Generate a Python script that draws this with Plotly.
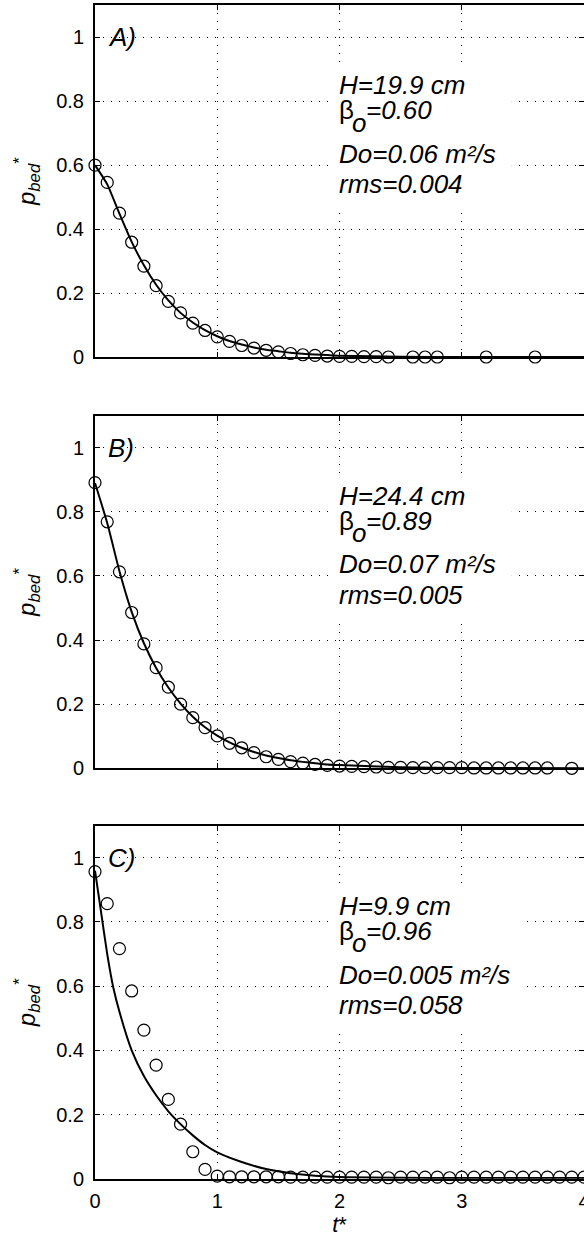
import plotly.graph_objects as go
from plotly.subplots import make_subplots

# ---------------- data ----------------
tA = [0.0, 0.1, 0.2, 0.3, 0.4, 0.5, 0.6, 0.7, 0.8, 0.9, 1.0, 1.1, 1.2, 1.3, 1.4,
      1.5, 1.6, 1.7, 1.8, 1.9, 2.0, 2.1, 2.2, 2.3, 2.4, 2.6, 2.7, 2.8, 3.2, 3.6]
pA = [0.600, 0.546, 0.450, 0.359, 0.284, 0.223, 0.174, 0.138, 0.106, 0.083, 0.063,
      0.049, 0.036, 0.028, 0.021, 0.016, 0.011, 0.007, 0.005, 0.003, 0.002, 0.002,
      0.001, 0.001, 0.000, 0.000, 0.000, 0.000, 0.000, 0.000]

tfitA = [0.0, 0.1, 0.2, 0.3, 0.4, 0.5, 0.6, 0.7, 0.8, 0.9, 1.0, 1.1, 1.2, 1.3, 1.4,
         1.5, 1.6, 1.7, 1.8, 1.9, 2.0, 2.5, 3.0, 4.0]
fitA = [0.600, 0.540, 0.448, 0.360, 0.287, 0.226, 0.177, 0.138, 0.108, 0.084, 0.065,
        0.050, 0.039, 0.030, 0.023, 0.018, 0.013, 0.010, 0.008, 0.006, 0.004, 0.001,
        0.000, 0.000]

tB = [0.0, 0.1, 0.2, 0.3, 0.4, 0.5, 0.6, 0.7, 0.8, 0.9, 1.0, 1.1, 1.2, 1.3, 1.4,
      1.5, 1.6, 1.7, 1.8, 1.9, 2.0, 2.1, 2.2, 2.3, 2.4, 2.5, 2.6, 2.7, 2.8, 2.9,
      3.0, 3.1, 3.2, 3.3, 3.4, 3.5, 3.6, 3.7, 3.9]
pB = [0.891, 0.769, 0.613, 0.486, 0.388, 0.314, 0.253, 0.200, 0.158, 0.127, 0.101,
      0.078, 0.064, 0.049, 0.036, 0.028, 0.021, 0.016, 0.012, 0.009, 0.007, 0.006,
      0.005, 0.004, 0.003, 0.003, 0.002, 0.002, 0.002, 0.002, 0.002, 0.001, 0.001,
      0.001, 0.001, 0.001, 0.001, 0.001, 0.000]

tfitB = [0.0, 0.1, 0.2, 0.3, 0.4, 0.5, 0.6, 0.7, 0.8, 0.9, 1.0, 1.1, 1.2, 1.3, 1.4,
         1.5, 1.6, 1.7, 1.8, 1.9, 2.0, 2.5, 3.0, 4.0]
fitB = [0.890, 0.765, 0.615, 0.488, 0.390, 0.313, 0.252, 0.202, 0.161, 0.128, 0.102,
        0.081, 0.064, 0.051, 0.040, 0.032, 0.025, 0.020, 0.016, 0.012, 0.010, 0.003,
        0.001, 0.000]

tC = [0.0, 0.1, 0.2, 0.3, 0.4, 0.5, 0.6, 0.7, 0.8, 0.9, 1.0, 1.1, 1.2, 1.3, 1.4,
      1.5, 1.6, 1.7, 1.8, 1.9, 2.0, 2.1, 2.2, 2.3, 2.4, 2.5, 2.6, 2.7, 2.8, 2.9,
      3.0, 3.1, 3.2, 3.3, 3.4, 3.5, 3.6, 3.7, 3.8, 3.9, 4.0]
pC = [0.957, 0.857, 0.717, 0.585, 0.463, 0.354, 0.247, 0.170, 0.084, 0.029, 0.008,
      0.006, 0.006, 0.006, 0.006, 0.006, 0.005, 0.005, 0.005, 0.005, 0.005, 0.005,
      0.005, 0.005, 0.003, 0.005, 0.005, 0.005, 0.005, 0.003, 0.005, 0.005, 0.005,
      0.005, 0.005, 0.005, 0.005, 0.005, 0.005, 0.005, 0.005]

tfitC = [0.0, 0.05, 0.1, 0.15, 0.2, 0.3, 0.4, 0.5, 0.6, 0.7, 0.8, 0.9, 1.0, 1.2,
         1.4, 1.6, 1.8, 2.0, 2.5, 3.0, 4.0]
fitC = [0.960, 0.830, 0.700, 0.595, 0.520, 0.400, 0.320, 0.260, 0.210, 0.170, 0.135,
        0.105, 0.082, 0.052, 0.030, 0.017, 0.009, 0.005, 0.003, 0.002, 0.002]

panel_labels = ["A)", "B)", "C)"]
H_vals = ["19.9", "24.4", "9.9"]
beta_vals = ["0.60", "0.89", "0.96"]
Do_vals = ["0.06", "0.07", "0.005"]
rms_vals = ["0.004", "0.005", "0.058"]

x_ticks = [0, 1, 2, 3, 4]
y_ticks = [0, 0.2, 0.4, 0.6, 0.8, 1]
y_ticktext = ["0", "0.2", "0.4", "0.6", "0.8", "1"]

# ---------------- figure ----------------
FONT = "Liberation Sans, Arial, Helvetica, sans-serif"
W, Hfig = 584, 1241

fig = make_subplots(rows=3, cols=1)

domains = [[0.71233, 0.99573], [0.38091, 0.66503], [0.05020, 0.33465]]
y_top = 1.1
box_right = [3.41, 3.41, 3.49]

series = [(tA, pA, tfitA, fitA), (tB, pB, tfitB, fitB), (tC, pC, tfitC, fitC)]

for i, (tp, pp, tf, pf) in enumerate(series):
    r = i + 1
    fig.add_trace(go.Scatter(x=tf, y=pf, mode="lines", line=dict(color="black", width=2,
                             shape="spline", smoothing=0.6), showlegend=False,
                             hoverinfo="skip", cliponaxis=False), row=r, col=1)
    fig.add_trace(go.Scatter(x=tp, y=pp, mode="markers",
                             marker=dict(symbol="circle-open", size=12, color="black",
                                         line=dict(width=1.2, color="black")),
                             showlegend=False, cliponaxis=False), row=r, col=1)

axis_common = dict(showline=True, linecolor="black", linewidth=2, ticks="inside",
                   ticklen=5, tickwidth=1, tickcolor="black", showgrid=True,
                   gridcolor="black", gridwidth=1, griddash="1px,7px", zeroline=False,
                   automargin=False,
                   tickfont=dict(family=FONT, size=20, color="black"))

for i in range(3):
    xa = "xaxis" if i == 0 else f"xaxis{i+1}"
    ya = "yaxis" if i == 0 else f"yaxis{i+1}"
    fig.layout[xa].update(domain=[0, 1], range=[0, 4], tickvals=x_ticks,
                          ticktext=[str(v) for v in x_ticks], mirror="ticks",
                          showticklabels=(i == 2), ticklabelstandoff=3,
                          ticklabeloverflow="allow", **axis_common)
    fig.layout[ya].update(domain=domains[i], range=[0, y_top], tickvals=y_ticks,
                          ticktext=y_ticktext, mirror=False, ticklabelstandoff=5,
                          title=dict(text="<i>p</i><sub><i>bed</i></sub><sup>*</sup>",
                                     font=dict(family=FONT, size=24, color="black"),
                                     standoff=14),
                          **axis_common)

fig.layout["xaxis3"].update(title=dict(text="<i>t</i>*", standoff=2,
                                       font=dict(family=FONT, size=22, color="black")))

# right-side mirrored ticks (no right spine visible in the original)
for i in range(3):
    yname = f"y{i+4}"
    xref = "x" if i == 0 else f"x{i+1}"
    yref = "y" if i == 0 else f"y{i+1}"
    fig.layout[f"yaxis{i+4}"] = dict(overlaying=yref, anchor=xref, side="right",
                                     range=[0, y_top], tickvals=y_ticks,
                                     ticks="inside", ticklen=5, tickcolor="black",
                                     showline=False, showgrid=False, zeroline=False,
                                     showticklabels=False, automargin=False)
    fig.add_trace(go.Scatter(x=[0], y=[0], xaxis=xref, yaxis=yname, mode="markers",
                             marker=dict(opacity=0), showlegend=False, hoverinfo="skip"))

ann_font = dict(family=FONT, size=26, color="black")
for i in range(3):
    xref = "x" if i == 0 else f"x{i+1}"
    yref = "y" if i == 0 else f"y{i+1}"
    fig.add_shape(type="rect", xref=xref, yref=yref, x0=1.94, x1=box_right[i],
                  y0=0.469, y1=0.919, fillcolor="white", line=dict(width=0),
                  layer="between")
    fig.add_annotation(x=0.09, y=1.0, xref=xref, yref=yref, xanchor="left",
                       yanchor="middle", text=f"<i>{panel_labels[i]}</i>",
                       showarrow=False, font=ann_font)
    items = [(f"<i>H={H_vals[i]} cm</i>", 1.985, 0.850),
             ("β", 1.985, 0.772),
             ("<i>o</i>", 2.095, 0.733),
             (f"<i>={beta_vals[i]}</i>", 2.205, 0.772),
             (f"<i>Do={Do_vals[i]} m²/s</i>", 1.985, 0.636),
             (f"<i>rms={rms_vals[i]}</i>", 1.985, 0.542)]
    for txt, xx, yy in items:
        fig.add_annotation(x=xx, y=yy, xref=xref, yref=yref, xanchor="left",
                           yanchor="middle", text=txt, showarrow=False, font=ann_font,
                           borderpad=0)

fig.update_layout(width=W, height=Hfig, autosize=False,
                  margin=dict(l=95, r=0, t=0, b=0, autoexpand=False),
                  paper_bgcolor="white", plot_bgcolor="white",
                  font=dict(family=FONT, color="black"))

# remove the browser's default 8px body margin so the figure fills the window
fig.write_html("out.html", config={"displayModeBar": False},
               post_script="document.body.style.margin='0px';"
                           "document.body.style.overflow='hidden';")
